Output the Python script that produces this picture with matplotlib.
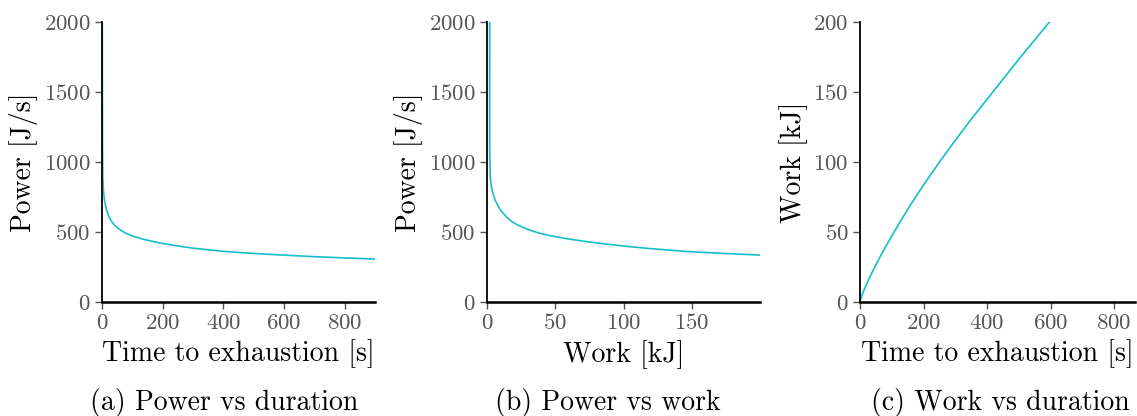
import numpy as np
import matplotlib
matplotlib.use("Agg")
import matplotlib.pyplot as plt

plt.rcParams['font.family'] = 'serif'
plt.rcParams['font.serif'] = ['cmr10', 'DejaVu Serif']
plt.rcParams['mathtext.fontset'] = 'cm'
plt.rcParams['axes.formatter.use_mathtext'] = True

# power-duration data
time_s = [1.0, 1.3, 1.8, 2.7, 4, 5.5, 8, 12, 16, 24, 30, 40, 50, 60, 70, 80,
          100, 130, 160, 200, 250, 300, 350, 400, 500, 600, 700, 800, 900]
power_w = [2000, 1500, 1100, 890, 820, 780, 730, 685, 650, 605, 580, 552,
           532, 515, 502, 490, 472, 452, 436, 418, 400, 385, 373, 362, 347,
           335, 324, 315, 307]

captions = ['(a) Power vs duration', '(b) Power vs work', '(c) Work vs duration']
caption_x = [0.197, 0.535, 0.8795]
x_labels = ['Time to exhaustion [s]', 'Work [kJ]', 'Time to exhaustion [s]']
y_labels = ['Power [J/s]', 'Power [J/s]', 'Work [kJ]']

t = np.array(time_s)
p = np.array(power_w)
work_kj = p * t / 1000.0

line_col = '#14bfca'
tick_col = '#555555'

fig = plt.figure(figsize=(11.37, 4.16), dpi=100)
lefts = [0.0897, 0.4283, 0.7564]
widths = [0.2401, 0.2401, 0.2419]
axes = [fig.add_axes([l, 0.274, w, 0.673]) for l, w in zip(lefts, widths)]

ax1, ax2, ax3 = axes
ax1.plot(t, p, color=line_col, lw=1.2)
ax1.set_xlim(0, 900)
ax1.set_ylim(0, 2000)
ax1.set_xticks([0, 200, 400, 600, 800])
ax1.set_yticks([0, 500, 1000, 1500, 2000])

ax2.plot(work_kj, p, color=line_col, lw=1.2)
ax2.set_xlim(0, 199.9)
ax2.set_ylim(0, 2000)
ax2.set_xticks([0, 50, 100, 150])
ax2.set_yticks([0, 500, 1000, 1500, 2000])

ax3.plot(t, work_kj, color=line_col, lw=1.2)
ax3.set_xlim(0, 866)
ax3.set_ylim(0, 200)
ax3.set_xticks([0, 200, 400, 600, 800])
ax3.set_yticks([0, 50, 100, 150, 200])

for ax, xl, yl, cap, cx in zip(axes, x_labels, y_labels, captions, caption_x):
    ax.spines['top'].set_visible(False)
    ax.spines['right'].set_visible(False)
    ax.spines['left'].set_linewidth(1.3)
    ax.spines['bottom'].set_linewidth(1.8)
    ax.tick_params(axis='both', colors=tick_col, labelsize=16.5, length=5,
                   width=1.0, pad=3)
    ax.set_xlabel(xl, fontsize=20, labelpad=5)
    ax.set_ylabel(yl, fontsize=20, labelpad=4)
    fig.text(cx, 0.014, cap, ha='center', va='baseline', fontsize=20)

fig.savefig('out.png', dpi=100)
